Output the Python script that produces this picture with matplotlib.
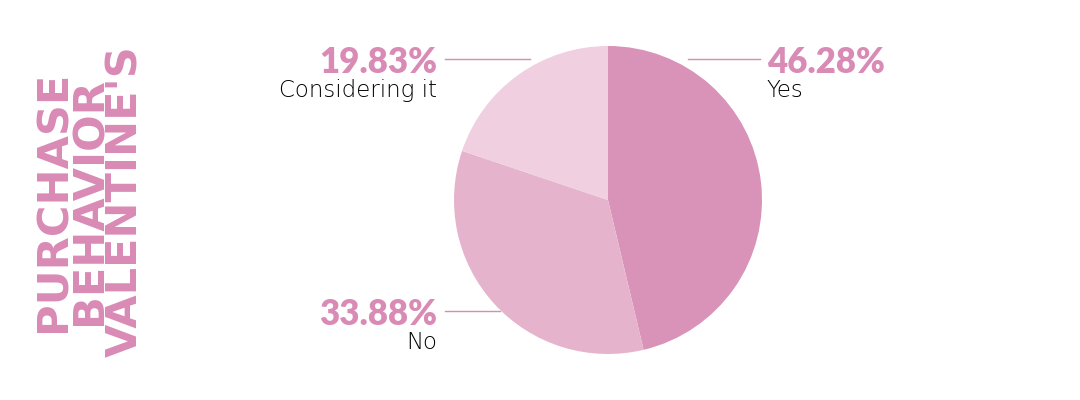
import matplotlib.pyplot as plt
from matplotlib.lines import Line2D

labels = ['Yes', 'No', 'Considering it']
values = [46.28, 33.88, 19.83]
colors = ['#d993b9', '#e6b3cd', '#efcfe0']
title_lines = ['PURCHASE', 'BEHAVIOR', "VALENTINE'S"]

ACCENT = '#d98ab5'
W, H = 1080, 400


def fx(x):
    return x / W


def fy(y):
    return 1 - y / H


def main():
    fig = plt.figure(figsize=(10.8, 4), dpi=100)
    fig.patch.set_facecolor('white')

    ax = fig.add_axes([fx(608 - 154), fy(200 + 154), 308 / W, 308 / H])
    ax.pie(values, colors=colors, startangle=90, counterclock=False,
           wedgeprops=dict(linewidth=0))
    ax.set_xlim(-1, 1)
    ax.set_ylim(-1, 1)
    ax.set_aspect('equal')
    ax.axis('off')

    # title, rotated, one column per line
    for i, line in enumerate(title_lines):
        fig.text(fx(53 + 36 * i), fy(201), line, rotation=90,
                 ha='center', va='center', fontsize=31, fontweight='bold',
                 family='DejaVu Sans', color=ACCENT)

    # annotations: (value, label, text x, baseline y, ha, line x0, x1, line y)
    notes = [
        (values[2], labels[2], 437, 73, 'right', 445, 530, 59),
        (values[0], labels[0], 767, 73, 'left', 688, 760, 59),
        (values[1], labels[1], 437, 325, 'right', 445, 500, 311),
    ]
    for v, lab, x, y, ha, x0, x1, ly in notes:
        fig.text(fx(x), fy(y), f'{v:.2f}%', ha=ha, va='baseline',
                 fontsize=25, fontweight='heavy', family='Lato', color=ACCENT)
        fig.text(fx(x), fy(y + 24), lab, ha=ha, va='baseline',
                 fontsize=16.5, fontweight='light', family='DejaVu Sans',
                 color='#000000')
        fig.add_artist(Line2D([fx(x0), fx(x1)], [fy(ly), fy(ly)],
                              transform=fig.transFigure, color=ACCENT, lw=1.0))

    fig.savefig('out.png', dpi=100, facecolor='white')


if __name__ == '__main__':
    main()
